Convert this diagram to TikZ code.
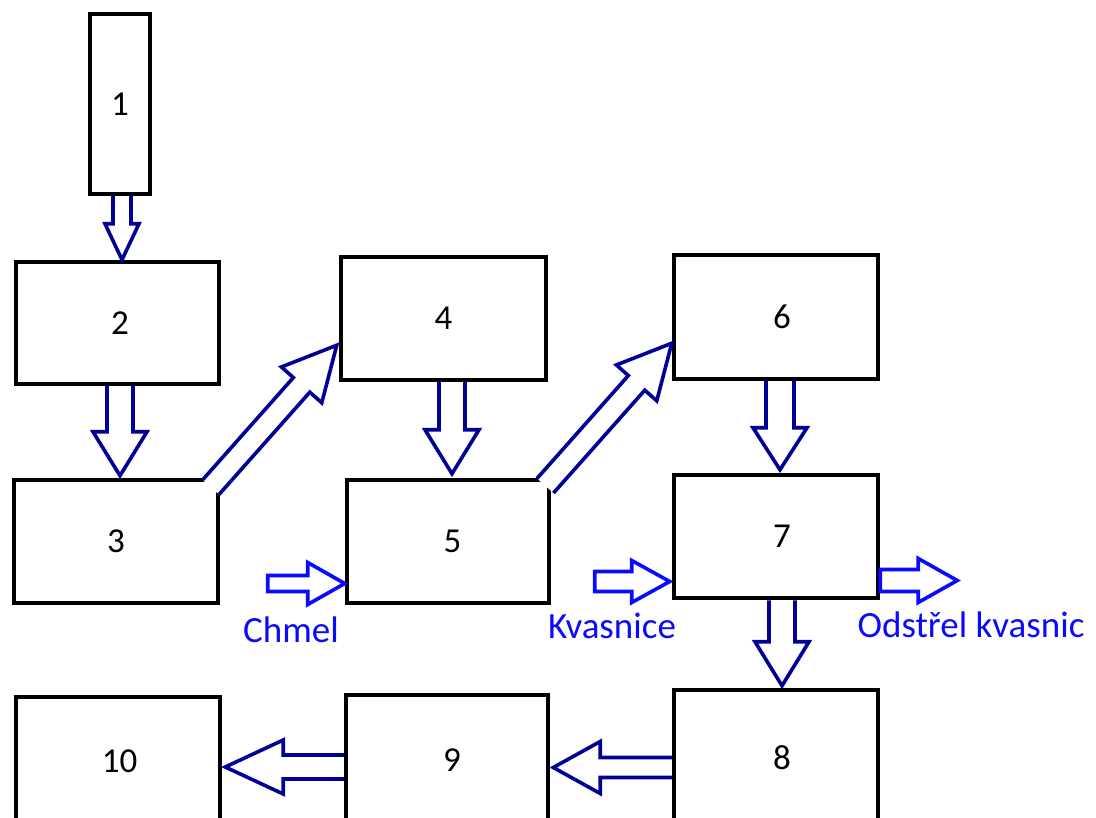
\documentclass[tikz,border=0pt]{standalone}
\usepackage{fontspec}
\setmainfont{Carlito}
\usetikzlibrary{calc}
\definecolor{navy}{RGB}{0,0,150}
\definecolor{brblue}{RGB}{10,10,255}
\tikzset{
 box/.style={draw=black, line width=4.5pt, rectangle, inner sep=0pt, font=\fontsize{35}{40}\selectfont},
 fat/.style={draw=navy, line width=3.6pt, line join=miter, fill=white},
 fatb/.style={draw=brblue, line width=3.6pt, line join=miter, fill=white},
 lbl/.style={text=brblue, font=\fontsize{37}{42}\selectfont, anchor=base, inner sep=0pt}
}
% #1 style, #2 start, #3 tip, #4 half shaft, #5 half head, #6 head length, #7 ending
\newcommand\fatarrow[7]{%
 \coordinate (fh) at ($(#3)!#6pt!(#2)$);
 \path[#1] ($(#2)!#4pt!-90:(#3)$) -- ($(fh)!#4pt!90:(#2)$) -- ($(fh)!#5pt!90:(#2)$) -- (#3)
   -- ($(fh)!#5pt!-90:(#2)$) -- ($(fh)!#4pt!-90:(#2)$) -- ($(#2)!#4pt!90:(#3)$) #7;
}
\begin{document}
\begin{tikzpicture}[x=1pt,y=-1pt]
\useasboundingbox (0,0) rectangle (1096,818);
\node[box, minimum width=60pt, minimum height=180pt] (b1) at (120,104) {1};
\node[box, minimum width=203pt, minimum height=122pt] (b2) at (117.5,323) {\hspace{5pt}2};
\node[box, minimum width=204pt, minimum height=123pt] (b3) at (116,541.5) {3};
\node[box, minimum width=205pt, minimum height=123pt] (b4) at (443.5,318.5) {4};
\node[box, minimum width=202pt, minimum height=123pt] (b5) at (448,541.5) {\hspace{9pt}5};
\node[box, minimum width=204pt, minimum height=124pt] (b6) at (776,317) {\hspace{12pt}6};
\node[box, minimum width=204pt, minimum height=123pt] (b7) at (776,536.5) {\hspace{12pt}7};
\node[box, minimum width=204pt, minimum height=135pt] (b8) at (776,757.5) {\hspace{12pt}8};
\node[box, minimum width=202pt, minimum height=130pt] (b9) at (447,760) {\hspace{10pt}9};
\node[box, minimum width=204pt, minimum height=128pt] (b10) at (118,761) {\hspace{3pt}10};

% dark blue fat arrows
\coordinate (a12) at ($(b1.south)+(2,0)$);
\coordinate (t12) at (a12 |- b2.north);
\fatarrow{fat}{a12}{t12}{9}{17}{36}{}
\coordinate (a23) at ($(b2.south)+(2.5,0)$);
\coordinate (t23) at ($(a23 |- b3.north)+(0,-2)$);
\fatarrow{fat}{a23}{t23}{13}{27}{44}{}
\coordinate (a45) at ($(b4.south)+(8.5,0)$);
\coordinate (t45) at ($(a45 |- b5.north)+(0,-4)$);
\fatarrow{fat}{a45}{t45}{13}{27}{44}{}
\coordinate (a67) at ($(b6.south)+(4,0)$);
\coordinate (t67) at ($(a67 |- b7.north)+(0,-3)$);
\fatarrow{fat}{a67}{t67}{14}{27}{42}{}
\coordinate (a78) at ($(b7.south)+(6,0)$);
\coordinate (t78) at ($(a78 |- b8.north)+(0,-2)$);
\fatarrow{fat}{a78}{t78}{13}{27}{44}{}
\coordinate (a89) at ($(b8.west)+(0,10)$);
\coordinate (t89) at ($(a89 -| b9.east)+(3,0)$);
\fatarrow{fat}{a89}{t89}{10}{26}{47}{}
\coordinate (a910) at ($(b9.west)+(0,7)$);
\coordinate (t910) at ($(a910 -| b10.east)+(3,0)$);
\fatarrow{fat}{a910}{t910}{12}{27}{58}{}
\coordinate (a34) at ($(b3.north east)+(-9.5,9.5)$);
\coordinate (t34) at ($(b4.south west)+(-2,-37)$);
\fatarrow{fat}{a34}{t34}{11}{27}{53}{}
\coordinate (a56) at ($(b5.north east)+(-6,8)$);
\coordinate (t56) at ($(b6.south west)+(0,-38)$);
\fatarrow{fat}{a56}{t56}{11}{27}{53}{}

% bright blue input/output arrows
\coordinate (tch) at ($(b5.west)+(0,42)$);
\coordinate (ach) at ($(tch)+(-77,0)$);
\fatarrow{fatb}{ach}{tch}{8}{21}{37}{-- cycle}
\coordinate (tkv) at ($(b7.west)+(-2,45)$);
\coordinate (akv) at ($(tkv)+(-75,0)$);
\fatarrow{fatb}{akv}{tkv}{10}{21}{38}{-- cycle}
\coordinate (aod) at ($(b7.east)+(0,44)$);
\coordinate (tod) at ($(aod)+(77,0)$);
\fatarrow{fatb}{aod}{tod}{11}{22}{39}{-- cycle}

\node[lbl] (chmel) at (291,642) {Chmel};
\node[lbl] (kvas) at (612,638) {Kvasnice};
\node[lbl] (odst) at (971,637) {Odstřel kvasnic};
\end{tikzpicture}
\end{document}
